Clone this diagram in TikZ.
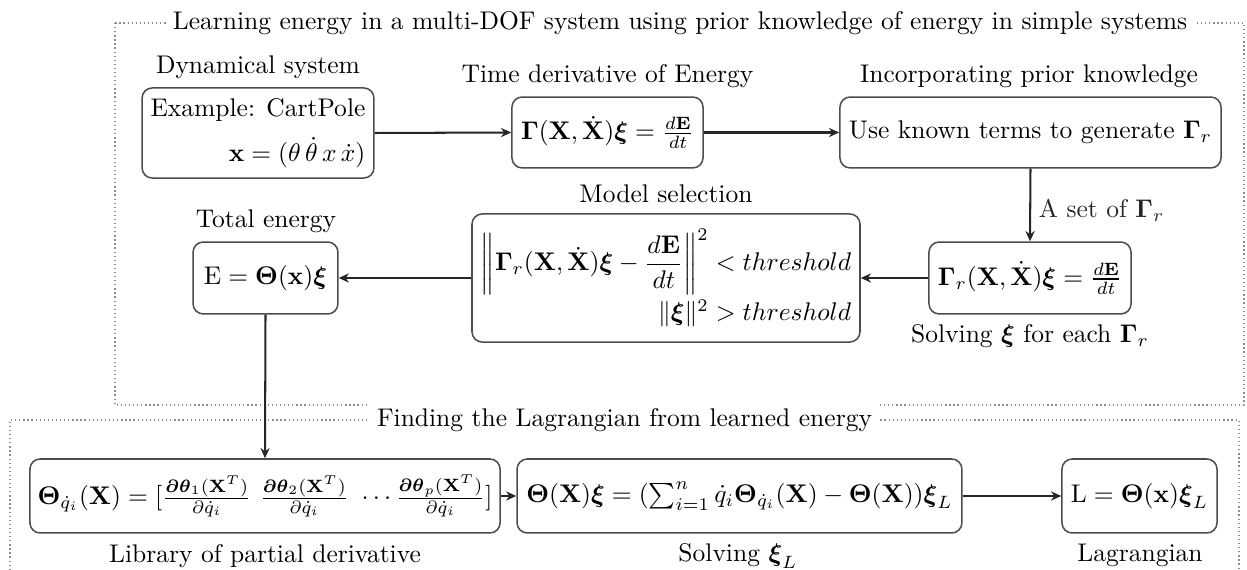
\documentclass[tikz,border=0pt]{standalone}
\usepackage{amsmath,amssymb}
\usetikzlibrary{arrows.meta,positioning}
\begin{document}
\begin{tikzpicture}[x=0.392pt,y=-0.392pt,
 box/.style={draw=black!70, line width=0.6pt, rounded corners=4pt, inner sep=3pt, align=center},
 lbl/.style={anchor=base, inner sep=0pt},
 conn/.style={-{Stealth[length=4pt,width=3.6pt]}, line width=0.8pt, black!85},
 frame/.style={black!45, line width=0.5pt, dash pattern=on 0.5pt off 1.1pt},
 ftitle/.style={fill=white, inner sep=2.6pt}]
\useasboundingbox (0,0) rectangle (1247,570);
% frames
\draw[frame] (115,23) rectangle (1244,405);
\node[ftitle] (t1) at (680,23) {Learning energy in a multi-DOF system using prior knowledge of energy in simple systems};
\draw[frame] (10,570) -- (10,420) -- (1239,420) -- (1239,570);
\node[ftitle] (t2) at (624.5,420) {Finding the Lagrangian from learned energy};
% boxes
\node[box, align=right, minimum width=90.9pt, minimum height=35.3pt] (dyn) at (258,133)
 {Example: CartPole\\[5.5pt] $\mathbf{x} = (\theta\,\dot{\theta}\,x\,\dot{x})$};
\node[box, minimum width=74.9pt, minimum height=27.8pt] (td) at (607.5,132.5)
 {$\boldsymbol{\Gamma}(\mathbf{X},\dot{\mathbf{X}})\boldsymbol{\xi} = \frac{d\mathbf{E}}{dt}$};
\node[box, minimum width=149.4pt, minimum height=27.8pt] (inc) at (1030.5,132.5)
 {Use known terms to generate $\boldsymbol{\Gamma}_r$};
\node[box, minimum width=79.2pt, minimum height=28.2pt] (sol) at (1030,278)
 {$\boldsymbol{\Gamma}_r(\mathbf{X},\dot{\mathbf{X}})\boldsymbol{\xi} = \frac{d\mathbf{E}}{dt}$};
\node[box, align=right, minimum width=152.1pt, minimum height=50.2pt] (model) at (666,278)
 {$\displaystyle\left\|\boldsymbol{\Gamma}_r(\mathbf{X},\dot{\mathbf{X}})\boldsymbol{\xi} - \frac{d\mathbf{E}}{dt}\right\|^2 < threshold$\\[1pt]
  $\|\boldsymbol{\xi}\|^2 > threshold$};
\node[box, minimum width=56.8pt, minimum height=28.2pt] (total) at (265.5,278)
 {$\mathrm{E} = \boldsymbol{\Theta}(\mathbf{x})\boldsymbol{\xi}$};
\node[box, minimum width=180.3pt, minimum height=29pt] (lib) at (265,496)
 {$\boldsymbol{\Theta}_{\dot{q}_i}(\mathbf{X}) = [\frac{\boldsymbol{\partial\theta}_1(\mathbf{X}^T)}{\partial\dot{q}_i}\ \frac{\boldsymbol{\partial\theta}_2(\mathbf{X}^T)}{\partial\dot{q}_i}\ \cdots \frac{\boldsymbol{\partial\theta}_p(\mathbf{X}^T)}{\partial\dot{q}_i}]$};
\node[box, minimum width=174.4pt, minimum height=29pt] (solL) at (739.5,496)
 {$\boldsymbol{\Theta}(\mathbf{X})\boldsymbol{\xi} = (\sum_{i=1}^n \dot{q}_i\boldsymbol{\Theta}_{\dot{q}_i}(\mathbf{X}) - \boldsymbol{\Theta}(\mathbf{X}))\boldsymbol{\xi}_L$};
\node[box, minimum width=60.8pt, minimum height=29pt] (lag) at (1139.5,496)
 {$\mathrm{L} = \boldsymbol{\Theta}(\mathbf{x})\boldsymbol{\xi}_L$};
% labels
\node[lbl] (ldyn) at (258,74) {Dynamical system};
\node[lbl] (ltd) at (607.5,83) {Time derivative of Energy};
\node[lbl] (linc) at (1029,83) {Incorporating prior knowledge};
\node[lbl] (lmodel) at (666,203) {Model selection};
\node[lbl] (ltotal) at (266,228) {Total energy};
\node[lbl] (lsol) at (1030,343) {Solving $\boldsymbol{\xi}$ for each $\boldsymbol{\Gamma}_r$};
\node[lbl] (llib) at (265,563) {Library of partial derivative};
\node[lbl] (lsolL) at (738,562) {Solving $\boldsymbol{\xi}_L$};
\node[lbl] (llag) at (1140,562) {Lagrangian};
% connectors
\draw[conn] (dyn.east) -- (td.west);
\draw[conn] (td.east) -- (inc.west);
\draw[conn] (inc.south) -- node[right=3pt, inner sep=0pt, yshift=-2pt] (lset) {A set of $\boldsymbol{\Gamma}_r$} (sol.north);
\draw[conn] (sol.west) -- (model.east);
\draw[conn] (model.west) -- (total.east);
\draw[conn] (total.south) -- (lib.north);
\draw[conn] (lib.east) -- (solL.west);
\draw[conn] (solL.east) -- (lag.west);
\end{tikzpicture}
\end{document}
